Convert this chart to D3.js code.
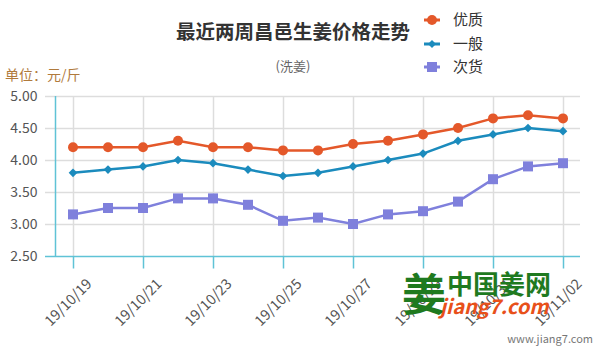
<!DOCTYPE html>
<html>
<head>
<meta charset="utf-8">
<script src="https://cdn.jsdelivr.net/npm/d3@7"></script>
<style>
html,body{margin:0;padding:0;background:#fff;}
svg{display:block;}
text{font-family:"Noto Sans CJK SC","Noto Sans",sans-serif;}
</style>
</head>
<body>
<svg id="chart" width="600" height="360"></svg>
<script>
const dates = ["19/10/19","19/10/20","19/10/21","19/10/22","19/10/23","19/10/24","19/10/25","19/10/26","19/10/27","19/10/28","19/10/29","19/10/30","19/10/31","19/11/01","19/11/02"];
const youzhi = [4.20,4.20,4.20,4.30,4.20,4.20,4.15,4.15,4.25,4.30,4.40,4.50,4.65,4.70,4.65];
const yiban  = [3.80,3.85,3.90,4.00,3.95,3.85,3.75,3.80,3.90,4.00,4.10,4.30,4.40,4.50,4.45];
const cihuo  = [3.15,3.25,3.25,3.40,3.40,3.30,3.05,3.10,3.00,3.15,3.20,3.35,3.70,3.90,3.95];
const seriesNames = ["优质","一般","次货"];
const yTicks = [2.5,3.0,3.5,4.0,4.5,5.0];
const xTickLabels = ["19/10/19","19/10/21","19/10/23","19/10/25","19/10/27","19/10/29","19/10/31","19/11/02"];

const svg = d3.select("#chart");
const colors = ["#e4582a","#1b8bbd","#7f80dc"];
const axisColor = "#5fc3d6";
const gridColor = "#dddddd";

const x = d3.scalePoint().domain(dates).range([73,563]);
const y = d3.scaleLinear().domain([2.5,5]).range([256,96]);

// horizontal grid
svg.append("g").selectAll("line").data(yTicks.filter(d=>d>2.5)).join("line")
  .attr("x1",45).attr("x2",580).attr("y1",d=>y(d)+0.5).attr("y2",d=>y(d)+0.5)
  .attr("stroke",gridColor).attr("stroke-width",1.5);
// vertical grid
svg.append("g").selectAll("line").data(xTickLabels).join("line")
  .attr("x1",d=>x(d)+0.5).attr("x2",d=>x(d)+0.5).attr("y1",96).attr("y2",256)
  .attr("stroke",gridColor).attr("stroke-width",1.5);

// y axis
const yAxis = svg.append("g").attr("transform","translate(55.5,0)")
  .call(d3.axisLeft(y).tickValues(yTicks).tickFormat(d3.format(".2f")).tickSize(0).tickPadding(18));
yAxis.select(".domain").attr("stroke",axisColor).attr("stroke-width",1.5).attr("d","M0,96V256");
yAxis.selectAll("text").attr("fill","#555").attr("font-size",14).attr("font-family","'Open Sans','Noto Sans',sans-serif");

// x axis
const xAxis = svg.append("g").attr("transform","translate(0,256.5)")
  .call(d3.axisBottom(x).tickValues(xTickLabels).tickSize(12).tickPadding(4));
xAxis.select(".domain").attr("stroke",axisColor).attr("stroke-width",1.5).attr("d","M45,0H580");
xAxis.selectAll(".tick line").attr("stroke",axisColor).attr("stroke-width",1.5);
xAxis.selectAll("text").attr("fill","#555").attr("font-size",14.5)
  .attr("font-family","'Open Sans','Noto Sans',sans-serif")
  .attr("text-anchor","end").attr("dy",0)
  .attr("transform","translate(8,17) rotate(-45)");

// lines
const allSeries = [youzhi, yiban, cihuo];
const line = d3.line().x((d,i)=>x(dates[i])).y(d=>y(d));
allSeries.forEach((vals,si)=>{
  svg.append("path").datum(vals).attr("d",line)
    .attr("fill","none").attr("stroke",colors[si]).attr("stroke-width",2.5);
});
// markers
const g0 = svg.append("g");
g0.selectAll("circle").data(youzhi).join("circle")
  .attr("cx",(d,i)=>x(dates[i])).attr("cy",d=>y(d)).attr("r",5).attr("fill",colors[0]);
const g1 = svg.append("g");
g1.selectAll("path").data(yiban).join("path")
  .attr("d",d3.symbol().type(d3.symbolDiamond2).size(48))
  .attr("transform",(d,i)=>`translate(${x(dates[i])},${y(d)})`).attr("fill",colors[1]);
const g2 = svg.append("g");
g2.selectAll("rect").data(cihuo).join("rect")
  .attr("x",(d,i)=>x(dates[i])-5).attr("y",d=>y(d)-5).attr("width",10).attr("height",10).attr("fill",colors[2]);

// titles
svg.append("text").attr("x",293).attr("y",39).attr("text-anchor","middle")
  .attr("font-size",19.5).attr("font-weight","bold").attr("fill","#333").text("最近两周昌邑生姜价格走势");
svg.append("text").attr("x",293).attr("y",71).attr("text-anchor","middle")
  .attr("font-size",13).attr("fill","#666").text("(洗姜)");
svg.append("text").attr("x",5).attr("y",80)
  .attr("font-size",14).attr("fill","#b07a3c").text("单位：元/斤");

// legend
const legY = [20,44,67];
seriesNames.forEach((n,i)=>{
  const lg = svg.append("g").attr("transform",`translate(432,${legY[i]})`);
  lg.append("line").attr("x1",-8).attr("x2",8).attr("stroke",colors[i]).attr("stroke-width",3);
  if(i===0) lg.append("circle").attr("r",5).attr("fill",colors[i]);
  if(i===1) lg.append("path").attr("d",d3.symbol().type(d3.symbolDiamond2).size(40)).attr("fill",colors[i]);
  if(i===2) lg.append("rect").attr("x",-5).attr("y",-5).attr("width",10).attr("height",10).attr("fill",colors[i]);
  lg.append("text").attr("x",21).attr("y",5).attr("font-size",15).attr("fill","#333").text(n);
});

// watermark
const wm = svg.append("g");
wm.append("text").attr("x",402).attr("y",311).attr("font-size",44).attr("font-weight","bold").attr("fill","#1f7a1f").text("姜");
wm.append("text").attr("x",447).attr("y",294).attr("font-size",26).attr("font-weight","bold").attr("fill","#1f7a1f").text("中国姜网");
wm.append("text").attr("x",440).attr("y",314).attr("font-size",20).attr("font-weight","bold").attr("font-style","italic")
  .attr("font-family","'Liberation Sans',Arial,sans-serif").attr("fill","#e8501a").text("jiang7.com");
wm.append("text").attr("x",593).attr("y",343).attr("text-anchor","end").attr("font-size",11)
  .attr("font-family","'DejaVu Sans',sans-serif").attr("fill","#777").text("www.jiang7.com");
</script>
</body>
</html>
